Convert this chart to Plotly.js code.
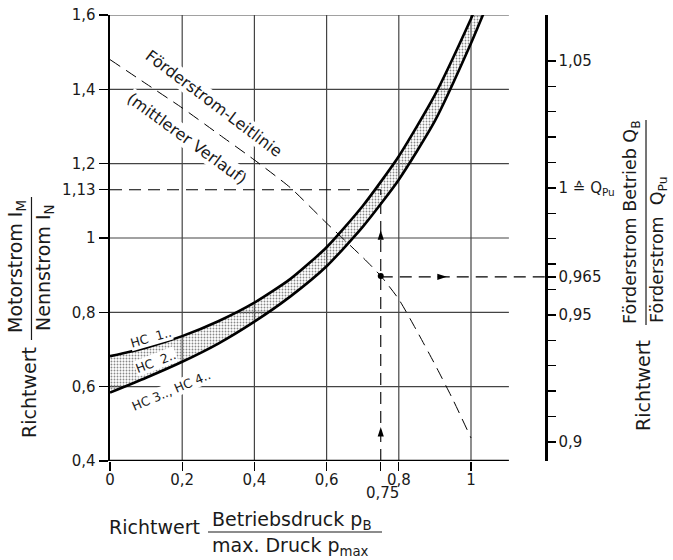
<!DOCTYPE html>
<html>
<head>
<meta charset="utf-8">
<script src="https://cdn.plot.ly/plotly-3.0.1.min.js"></script>
<style>html,body{margin:0;padding:0;background:#fff}#chart{width:673px;height:560px}</style>
</head>
<body>
<div id="chart"></div>
<script>
// ---- data ----
// upper band edge (HC 1..)
const hc1X = [0, 0.1, 0.2, 0.3, 0.4, 0.5, 0.6, 0.7, 0.8, 0.9, 1.0, 1.02];
const hc1Y = [0.682, 0.705, 0.736, 0.776, 0.826, 0.89, 0.975, 1.086, 1.22, 1.385, 1.59, 1.635];
// lower band edge (HC 3.., HC 4..)
const hc3X = [0, 0.1, 0.2, 0.3, 0.4, 0.5, 0.6, 0.7, 0.8, 0.9, 1.0, 1.05];
const hc3Y = [0.584, 0.624, 0.667, 0.716, 0.775, 0.843, 0.924, 1.03, 1.157, 1.315, 1.524, 1.64];
// Förderstrom-Leitlinie (mittlerer Verlauf)
const leitX = [0, 0.1, 0.2, 0.3, 0.4, 0.5, 0.6, 0.7, 0.75, 0.8, 0.85, 0.9, 0.95, 1.0];
const leitY = [1.48, 1.415, 1.35, 1.28, 1.21, 1.135, 1.04, 0.948, 0.898, 0.835, 0.75, 0.66, 0.565, 0.462];
// worked example
const opPressure = 0.75;
const opCurrent = 1.13;
const opPointCurrent = 0.898;
const opFlow = 0.965;
const arrowUpY = [0.4915, 1.021];
const arrowRightX = [0.933];
// axes ticks
const xTickVals = [0, 0.2, 0.4, 0.6, 0.8, 1, 0.75];
const xTickText = ['0', '0,2', '0,4', '0,6', '0,8', '1', ''];
const yTickVals = [0.4, 0.6, 0.8, 1.0, 1.13, 1.2, 1.4, 1.6];
const yTickText = ['0,4', '0,6', '0,8', '1', '1,13', '1,2', '1,4', '1,6'];
const y2TickVals = [0.9, 0.91, 0.92, 0.93, 0.94, 0.95, 0.96, 0.965, 0.97, 0.98, 0.99, 1.0, 1.01, 1.02, 1.03, 1.04, 1.05];
const y2TickText = ['0,9', '', '', '', '', '0,95', '', '0,965', '', '', '', '1 \u2259 Q<sub>Pu</sub>', '', '', '', '', '1,05'];
const gridX = [0.2, 0.4, 0.6, 0.8, 1.0];
const gridY = [0.6, 0.8, 1.0, 1.2, 1.4, 1.6];

// ---- styling ----
const FONT = 'DejaVu Sans, Verdana, sans-serif';
const INK = '#1a1a1a';
const X_MAX = 1.205, GRID_END = 1.105;
const dashA = '12px,7px';

const traces = [
  {x: hc3X, y: hc3Y, mode: 'lines', line: {color: '#000', width: 2.6, shape: 'spline', smoothing: 0.6}, hoverinfo: 'skip'},
  {x: hc1X, y: hc1Y, mode: 'lines', line: {color: '#000', width: 2.6, shape: 'spline', smoothing: 0.6},
   fill: 'tonexty', fillcolor: 'rgba(0,0,0,0)',
   fillpattern: {shape: '.', fgcolor: '#888', bgcolor: 'rgba(255,255,255,0)', size: 3, solidity: 0.3}, hoverinfo: 'skip'},
  {x: leitX, y: leitY, mode: 'lines', line: {color: '#000', width: 1, dash: dashA, shape: 'spline', smoothing: 0.6}},
  {x: [0, opPressure], y: [opCurrent, opCurrent], mode: 'lines', line: {color: '#000', width: 1.1, dash: dashA}},
  {x: [opPressure, opPressure], y: [0.4, opCurrent], mode: 'lines', line: {color: '#000', width: 1.1, dash: dashA}},
  {x: [opPressure, X_MAX], y: [opFlow, opFlow], yaxis: 'y2', mode: 'lines', line: {color: '#000', width: 1.1, dash: dashA}},
  {x: [opPressure], y: [opPointCurrent], mode: 'markers', marker: {symbol: 'circle', size: 6, color: '#000'}},
  {x: arrowUpY.map(() => opPressure), y: arrowUpY, mode: 'markers', marker: {symbol: 'arrow', angle: 0, size: 10, color: '#000', line: {width: 0}}},
  {x: arrowRightX, y: [opFlow], yaxis: 'y2', mode: 'markers', marker: {symbol: 'arrow', angle: 90, size: 10, color: '#000', line: {width: 0}}}
];

const shapes = [];
gridX.forEach(v => shapes.push({type: 'line', xref: 'x', yref: 'y', x0: v, x1: v, y0: 0.4, y1: 1.6, layer: 'below', line: {color: '#444', width: 1.2}}));
gridY.forEach(v => shapes.push({type: 'line', xref: 'x', yref: 'y', x0: 0, x1: GRID_END, y0: v, y1: v, layer: 'below', line: {color: '#444', width: 1.2}}));
shapes.push({type: 'line', xref: 'x', yref: 'y', x0: 0, x1: GRID_END, y0: 0.4, y1: 0.4, layer: 'above', line: {color: '#000', width: 2.5}});
// fraction bars
shapes.push({type: 'line', xref: 'paper', yref: 'paper', x0: -0.1805, x1: -0.1805, y0: 0.2713, y1: 0.5919, line: {color: INK, width: 1.2}});
shapes.push({type: 'line', xref: 'paper', yref: 'paper', x0: 1.2322, x1: 1.2322, y0: 0.3049, y1: 0.7646, line: {color: INK, width: 1.2}});
shapes.push({type: 'line', xref: 'paper', yref: 'paper', x0: 0.2253, x1: 0.6253, y0: -0.1592, y1: -0.1592, line: {color: INK, width: 1.2}});

const tf = {family: FONT, size: 19, color: INK};
const rf = {family: FONT, size: 17.5, color: INK};
const lf = {family: FONT, size: 15, color: INK};
const cf = {family: FONT, size: 16, color: INK};
const hf = {family: FONT, size: 12.5, color: INK};
function ann(o) { return Object.assign({showarrow: false, xanchor: 'center', yanchor: 'middle'}, o); }
const annotations = [
  ann({xref: 'paper', yref: 'paper', x: -0.1862, y: 0.1525, text: 'Richtwert', textangle: -90, font: tf}),
  ann({xref: 'paper', yref: 'paper', x: -0.2161, y: 0.4372, text: 'Motorstrom I<sub>M</sub>', textangle: -90, font: tf}),
  ann({xref: 'paper', yref: 'paper', x: -0.1517, y: 0.4327, text: 'Nennstrom I<sub>N</sub>', textangle: -90, font: tf}),
  ann({xref: 'paper', yref: 'paper', x: 1.2, y: 0.5359, text: 'Förderstrom Betrieb Q<sub>B</sub>', textangle: -90, font: rf}),
  ann({xref: 'paper', yref: 'paper', x: 1.2621, y: 0.4731, text: 'Förderstrom\u00a0\u00a0Q<sub>Pu</sub>', textangle: -90, font: rf}),
  ann({xref: 'paper', yref: 'paper', x: 1.2253, y: 0.1682, text: 'Richtwert', textangle: -90, font: tf}),
  ann({xref: 'paper', yref: 'paper', x: 0.1034, y: -0.148, text: 'Richtwert', font: tf}),
  ann({xref: 'paper', yref: 'paper', x: 0.2299, y: -0.1323, xanchor: 'left', text: 'Betriebsdruck p<sub>B</sub>', font: tf}),
  ann({xref: 'paper', yref: 'paper', x: 0.2299, y: -0.1928, xanchor: 'left', text: 'max. Druck p<sub>max</sub>', font: tf}),
  ann({xref: 'x', yref: 'paper', x: 0.756, y: -0.0717, text: '0,75', font: lf}),
  ann({xref: 'x', yref: 'y', x: 0.288, y: 1.362, text: 'Förderstrom-Leitlinie', textangle: 37, font: cf, bgcolor: '#fff', borderpad: 0}),
  ann({xref: 'x', yref: 'y', x: 0.2124, y: 1.2664, text: '(mittlerer Verlauf)', textangle: 36, font: cf, bgcolor: '#fff', borderpad: 0}),
  ann({xref: 'x', yref: 'y', x: 0.1136, y: 0.731, text: 'HC\u00a0\u00a01..', textangle: -16, font: hf, bgcolor: '#fff', borderpad: 0}),
  ann({xref: 'x', yref: 'y', x: 0.1274, y: 0.6664, text: 'HC\u00a0\u00a02..', textangle: -21, font: hf, bgcolor: '#fff', borderpad: 0}),
  ann({xref: 'x', yref: 'y', x: 0.169, y: 0.591, text: 'HC 3.., HC 4..', textangle: -23, font: hf, bgcolor: '#fff', borderpad: 0})
];

const layout = {
  width: 673, height: 560,
  margin: {l: 110, r: 128, t: 15, b: 99},
  paper_bgcolor: '#fff', plot_bgcolor: '#fff',
  showlegend: false,
  font: {family: FONT, color: INK},
  xaxis: {range: [0, X_MAX], showgrid: false, zeroline: false, showline: false,
          ticks: 'outside', ticklen: 9, tickwidth: 1.4, tickcolor: '#000', ticklabelstandoff: -4,
          tickmode: 'array', tickvals: xTickVals, ticktext: xTickText, tickfont: lf, fixedrange: true},
  yaxis: {range: [0.4, 1.6], showgrid: false, zeroline: false, showline: true, linewidth: 2.5, linecolor: '#000',
          ticks: 'outside', ticklen: 9, tickwidth: 1.4, tickcolor: '#000',
          tickmode: 'array', tickvals: yTickVals, ticktext: yTickText, tickfont: lf, fixedrange: true},
  yaxis2: {range: [0.8925, 1.0681], overlaying: 'y', side: 'right', anchor: 'x', showgrid: false, zeroline: false,
           showline: true, linewidth: 2.5, linecolor: '#000',
           ticks: 'outside', ticklen: 8, tickwidth: 1.4, tickcolor: '#000',
           tickmode: 'array', tickvals: y2TickVals, ticktext: y2TickText, tickfont: lf, fixedrange: true},
  shapes: shapes,
  annotations: annotations
};

Plotly.newPlot('chart', traces, layout, {displayModeBar: false, staticPlot: true});
</script>
</body>
</html>
